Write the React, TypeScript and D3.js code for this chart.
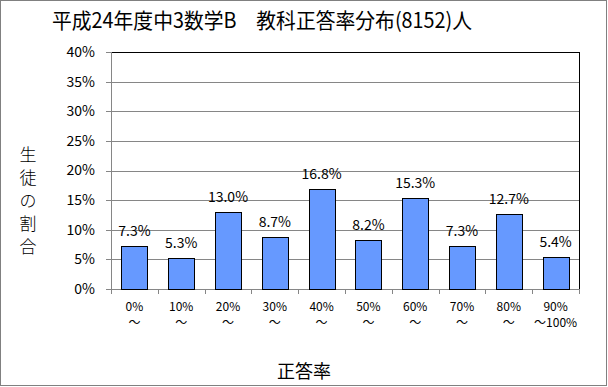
import React from "react";
import * as d3 from "d3";

const categories = ["0%", "10%", "20%", "30%", "40%", "50%", "60%", "70%", "80%", "90%"];
const categorySuffix = ["～", "～", "～", "～", "～", "～", "～", "～", "～", "～100%"];
const rates = [7.3, 5.3, 13.0, 8.7, 16.8, 8.2, 15.3, 7.3, 12.7, 5.4];
const yTicks = [0, 5, 10, 15, 20, 25, 30, 35, 40];

const W = 608;
const H = 387;
const FONT = "'Noto Sans CJK JP', 'DejaVu Sans', sans-serif";

export default function App() {
  const left = 111;
  const right = 579;
  const top = 52;
  const bottom = 289;

  const x = d3.scaleBand().domain(categories).range([left, right]).padding(0);
  const y = d3.scaleLinear().domain([0, 40]).range([bottom, top]);
  const barW = 26;

  return (
    <svg width={W} height={H} style={{ position: "absolute", left: 0, top: 0 }} fontFamily={FONT}>
      <rect x={0.5} y={0.5} width={W - 2} height={H - 2} fill="#fff" stroke="#808080" />
      <text x={52} y={28} fontSize={21} textLength={420} lengthAdjust="spacingAndGlyphs">
        平成24年度中3数学B　教科正答率分布(8152)人
      </text>

      {/* grid */}
      {yTicks.map(t => (
        <line key={t} x1={left} x2={right} y1={Math.round(y(t)) + 0.5} y2={Math.round(y(t)) + 0.5} stroke="#868686" />
      ))}
      <line x1={left} x2={right} y1={top + 0.5} y2={top + 0.5} stroke="#000" />
      <line x1={right + 0.5} x2={right + 0.5} y1={top} y2={bottom} stroke="#000" />
      <line x1={left + 0.5} x2={left + 0.5} y1={top} y2={bottom + 5} stroke="#868686" />

      {/* y axis */}
      {yTicks.map(t => (
        <g key={t}>
          <line x1={left - 5} x2={left} y1={Math.round(y(t)) + 0.5} y2={Math.round(y(t)) + 0.5} stroke="#868686" />
          <text x={95} y={y(t)} dy="0.35em" textAnchor="end" fontSize={14}>
            {t}%
          </text>
        </g>
      ))}

      {/* x ticks */}
      {categories.map(c => (
        <line key={c} x1={Math.round(x(c)! + x.bandwidth()) + 0.5} x2={Math.round(x(c)! + x.bandwidth()) + 0.5} y1={bottom} y2={bottom + 5} stroke="#868686" />
      ))}

      {/* bars */}
      {rates.map((v, i) => {
        const cx = x(categories[i])! + x.bandwidth() / 2;
        return (
          <g key={i}>
            <rect x={Math.round(cx - barW / 2) + 0.5} y={Math.round(y(v)) + 0.5} width={barW} height={Math.round(bottom - y(v))} fill="#6699ff" stroke="#000" />
            <text x={cx} y={y(v) - 10} textAnchor="middle" fontSize={14}>
              {v.toFixed(1)}%
            </text>
          </g>
        );
      })}

      {/* x labels */}
      {categories.map((c, i) => {
        const cx = x(c)! + x.bandwidth() / 2;
        return (
          <g key={c} fontSize={12}>
            <text x={cx} y={311} textAnchor="middle">{c}</text>
            <text x={cx} y={327} textAnchor="middle">{categorySuffix[i]}</text>
          </g>
        );
      })}

      <text x={304} y={378} textAnchor="middle" fontSize={18}>正答率</text>

      {"生徒の割合".split("").map((ch, i) => (
        <text key={i} x={28} y={161 + i * 23} textAnchor="middle" fontSize={17} fontWeight={300}>{ch}</text>
      ))}
    </svg>
  );
}
